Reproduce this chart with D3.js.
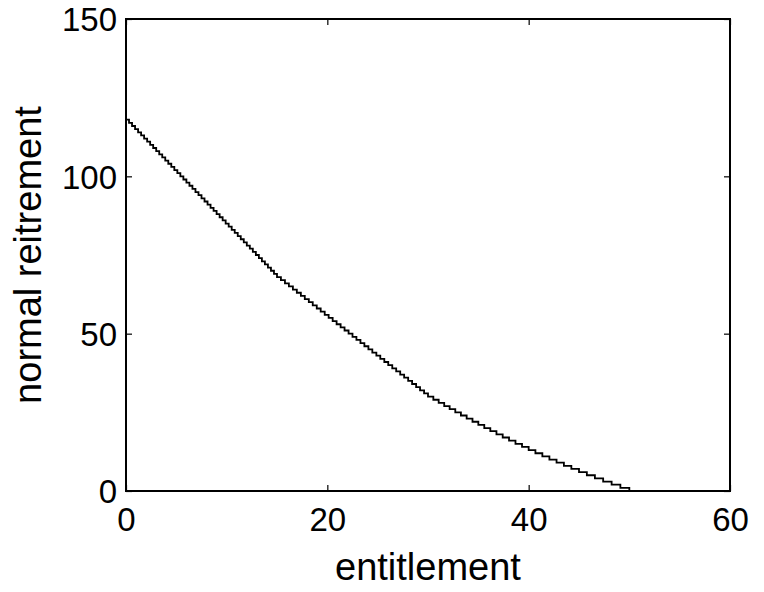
<!DOCTYPE html>
<html>
<head>
<meta charset="utf-8">
<script src="https://cdn.jsdelivr.net/npm/d3@7"></script>
<style>
  html, body { margin: 0; padding: 0; background: #fff; }
  svg { display: block; font-family: "Liberation Sans", Arial, Helvetica, sans-serif; }
</style>
</head>
<body>
<svg id="chart" width="764" height="592"></svg>
<script>
// Axis ranges and tick labels
const xTicks = [0, 20, 40, 60];
const yTicks = [0, 50, 100, 150];
const xLabel = "entitlement";
const yLabel = "normal reitrement";

// Entitlement at which normal retirement steps down to each whole value
const entitlement = [
  0, 0.3, 0.6, 0.9, 1.2, 1.5, 1.8, 2.1, 2.4, 2.7,
  3.0, 3.3, 3.6, 3.9, 4.2, 4.5, 4.8, 5.1, 5.4, 5.7,
  6.0, 6.3, 6.6, 6.9, 7.2, 7.5, 7.8, 8.1, 8.4, 8.7,
  9.0, 9.3, 9.6, 9.9, 10.2, 10.5, 10.8, 11.1, 11.4, 11.7,
  12.0, 12.3, 12.6, 12.9, 13.2, 13.5, 13.8, 14.1, 14.4, 14.7,
  15.0, 15.39, 15.79, 16.18, 16.58, 16.97, 17.37, 17.76, 18.16, 18.55,
  18.95, 19.34, 19.74, 20.13, 20.53, 20.92, 21.32, 21.71, 22.11, 22.5,
  22.89, 23.29, 23.68, 24.08, 24.47, 24.87, 25.26, 25.66, 26.05, 26.45,
  26.84, 27.24, 27.63, 28.03, 28.42, 28.82, 29.21, 29.61, 30.0, 30.53,
  31.06, 31.61, 32.15, 32.71, 33.27, 33.84, 34.42, 35.0, 35.59, 36.19,
  36.8, 37.42, 38.05, 38.69, 39.34, 40.0, 40.67, 41.36, 42.06, 42.77,
  43.5, 44.24, 45.0, 45.78, 46.58, 47.4, 48.24, 49.11, 50.0
];
const retirement = [
  118, 117, 116, 115, 114, 113, 112, 111, 110, 109,
  108, 107, 106, 105, 104, 103, 102, 101, 100, 99,
  98, 97, 96, 95, 94, 93, 92, 91, 90, 89,
  88, 87, 86, 85, 84, 83, 82, 81, 80, 79,
  78, 77, 76, 75, 74, 73, 72, 71, 70, 69,
  68, 67, 66, 65, 64, 63, 62, 61, 60, 59,
  58, 57, 56, 55, 54, 53, 52, 51, 50, 49,
  48, 47, 46, 45, 44, 43, 42, 41, 40, 39,
  38, 37, 36, 35, 34, 33, 32, 31, 30, 29,
  28, 27, 26, 25, 24, 23, 22, 21, 20, 19,
  18, 17, 16, 15, 14, 13, 12, 11, 10, 9,
  8, 7, 6, 5, 4, 3, 2, 1, 0
];

const svg = d3.select("#chart");
const plotLeft = 126, plotRight = 730, plotTop = 19, plotBottom = 491;
const tickLen = 6;

const x = d3.scaleLinear().domain([0, 60]).range([plotLeft, plotRight]);
const y = d3.scaleLinear().domain([0, 150]).range([plotBottom, plotTop]);

const tickFont = 33;
const labelFont = 38;
const fontStack = '"Liberation Sans", Arial, Helvetica, sans-serif';

// Bottom axis: labels plus inward ticks
const xAxis = d3.axisBottom(x).tickValues(xTicks).tickSize(-tickLen).tickPadding(17);
const gx = svg.append("g").attr("transform", `translate(0,${plotBottom})`).call(xAxis);
// Top axis: inward ticks only
const gxt = svg.append("g").attr("transform", `translate(0,${plotTop})`)
  .call(d3.axisTop(x).tickValues(xTicks).tickSize(-tickLen).tickFormat(""));
// Left axis: labels plus inward ticks
const yAxis = d3.axisLeft(y).tickValues(yTicks).tickSize(-tickLen).tickPadding(9);
const gy = svg.append("g").attr("transform", `translate(${plotLeft},0)`).call(yAxis);
// Right axis: inward ticks only
const gyr = svg.append("g").attr("transform", `translate(${plotRight},0)`)
  .call(d3.axisRight(y).tickValues(yTicks).tickSize(-tickLen).tickFormat(""));

[gx, gxt, gy, gyr].forEach(g => {
  g.select(".domain").remove();
  g.selectAll(".tick line").attr("stroke", "#000").attr("stroke-width", 1.2);
  g.selectAll("text")
    .attr("fill", "#000")
    .style("font-size", tickFont + "px")
    .style("font-family", fontStack);
});
gx.selectAll("text").attr("dy", "0.71em");
gy.selectAll("text").attr("dy", "0.36em");

// Axes box
svg.append("rect")
  .attr("x", plotLeft).attr("y", plotTop)
  .attr("width", plotRight - plotLeft).attr("height", plotBottom - plotTop)
  .attr("fill", "none").attr("stroke", "#000").attr("stroke-width", 2);

// Stepped curve
const pts = entitlement.map((e, i) => [e, retirement[i]]);
const line = d3.line()
  .x(d => x(d[0]))
  .y(d => y(d[1]))
  .curve(d3.curveStepAfter);
svg.append("path")
  .datum(pts)
  .attr("d", line)
  .attr("fill", "none")
  .attr("stroke", "#000")
  .attr("stroke-width", 1.8);

// Axis titles
svg.append("text")
  .attr("x", (plotLeft + plotRight) / 2).attr("y", 580)
  .attr("text-anchor", "middle")
  .style("font-size", labelFont + "px")
  .style("font-family", fontStack)
  .text(xLabel);

svg.append("text")
  .attr("transform", `translate(41,${(plotTop + plotBottom) / 2}) rotate(-90)`)
  .attr("text-anchor", "middle")
  .style("font-size", labelFont + "px")
  .style("font-family", fontStack)
  .text(yLabel);
</script>
</body>
</html>
